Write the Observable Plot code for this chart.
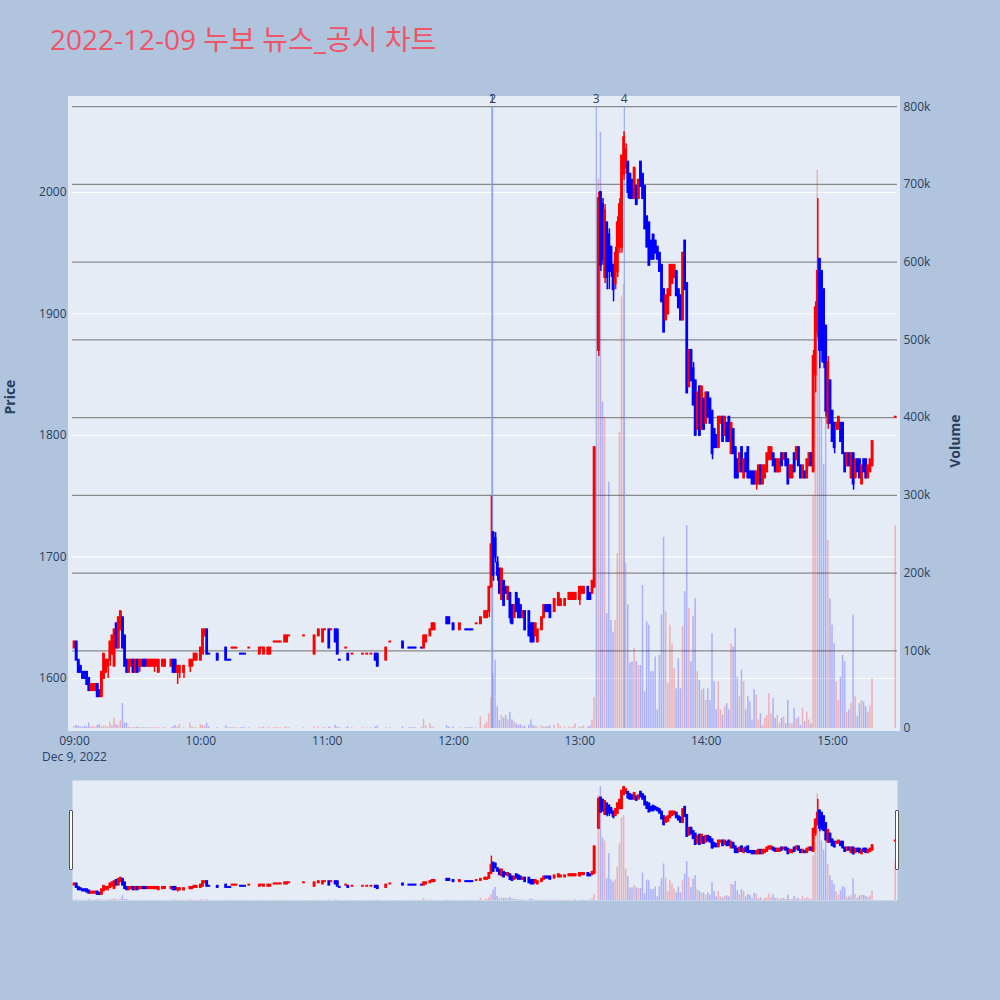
<!DOCTYPE html>
<html>
<head>
<meta charset="utf-8">
<script src="https://cdn.jsdelivr.net/npm/d3@7"></script>
<script src="https://cdn.jsdelivr.net/npm/@observablehq/plot@0.6"></script>
<style>
  html, body { margin: 0; padding: 0; background: #B0C4DE; }
  #root { position: relative; width: 1000px; height: 1000px; background: #B0C4DE; overflow: hidden;
          font-family: "Open Sans", "Noto Sans CJK KR", sans-serif; }
  #root svg { position: absolute; left: 0; }
  #title { position: absolute; left: 50px; top: 25px; font-size: 28px; line-height: 28px; color: #ef5468;
           white-space: nowrap; font-family: "Open Sans", "Noto Sans CJK KR", sans-serif; }
  .bg { position: absolute; background: #E5ECF6; }
  .handle { position: absolute; width: 2px; height: 58px; background: #fff; border: 1px solid #555; border-radius: 1px; }
</style>
</head>
<body>
<div id="root">
  <div id="title">2022-12-09 누보 뉴스_공시 차트</div>
</div>
<script>
// ---------------- DATA ----------------
const chartTitle = "2022-12-09 누보 뉴스_공시 차트";
const xTickMinutes = [0, 60, 120, 180, 240, 300, 360];
const xTickLabels = ["09:00", "10:00", "11:00", "12:00", "13:00", "14:00", "15:00"];
const dateLabel = "Dec 9, 2022";
const priceTicks = [1600, 1700, 1800, 1900, 2000];
const volumeTicks = [0, 100000, 200000, 300000, 400000, 500000, 600000, 700000, 800000];
const eventLabels = ["1", "2", "3", "4"];
const eventMinutes = [198.2, 198.6, 247.8, 261.1]; // minutes after 09:00
const priceAxisTitle = "Price";
const volumeAxisTitle = "Volume";

// one-minute candles per hour: [minute, open, high, low, close, volume (thousand shares)]
const bars09 = [
  [0,1625,1630,1625,1630,3],[1,1630,1630,1615,1615,4],[2,1615,1615,1605,1605,3],[3,1610,1610,1605,1605,2],
  [4,1605,1605,1600,1600,2],[5,1605,1605,1600,1600,3],[6,1605,1605,1595,1595,2],[7,1600,1600,1590,1590,7],
  [8,1590,1595,1590,1595,2],[9,1590,1595,1590,1595,3],[10,1590,1595,1590,1595,2],[11,1595,1595,1585,1585,4],
  [12,1590,1590,1585,1585,5],[13,1585,1605,1585,1605,2],[14,1600,1620,1600,1620,3],[15,1605,1615,1605,1615,3],
  [16,1610,1615,1600,1615,2],[17,1615,1630,1610,1630,8],[18,1620,1635,1620,1635,4],[19,1610,1640,1610,1640,13],
  [20,1645,1645,1625,1625,5],[21,1625,1650,1625,1650,4],[22,1640,1655,1640,1655,10],[23,1650,1650,1625,1625,32],
  [24,1635,1635,1610,1610,7],[25,1615,1615,1605,1605,7],[26,1605,1615,1605,1615,2],[27,1610,1615,1610,1615,1],
  [28,1615,1615,1605,1605,1],[29,1605,1615,1605,1615,1],[30,1615,1615,1605,1605,2],[31,1610,1615,1605,1615,1],
  [32,1610,1615,1610,1615,1],[33,1615,1615,1610,1610,1],[34,1615,1615,1610,1610,1],[35,1610,1615,1610,1615,1],
  [36,1610,1615,1610,1615,1],[37,1610,1615,1610,1615,1],[38,1610,1615,1605,1615,1],[39,1610,1615,1610,1615,1],
  [40,1605,1615,1605,1615,1],[42,1610,1615,1610,1615,1],[43,1610,1615,1610,1615,1],[46,1610,1615,1610,1615,1],
  [47,1615,1615,1605,1605,2],[48,1615,1615,1605,1605,4],[49,1605,1610,1595,1610,2],[50,1605,1610,1600,1610,5],
  [52,1605,1610,1600,1610,1],[55,1610,1615,1605,1615,7],[56,1610,1615,1610,1615,2],[57,1615,1620,1615,1620,1],
  [58,1615,1620,1615,1620,1]
];
const bars10 = [
  [0,1615,1625,1615,1625,5],[1,1620,1640,1620,1640,4],[2,1635,1640,1635,1640,3],[3,1640,1640,1620,1620,7],
  [4,1620,1620,1620,1620,2],[8,1620,1620,1615,1615,1],[12,1625,1625,1615,1615,3],[13,1615,1615,1615,1615,1],
  [14,1615,1615,1615,1615,1],[15,1625,1625,1625,1625,1],[16,1625,1625,1625,1625,1],[17,1625,1625,1625,1625,1],
  [19,1620,1620,1620,1620,1],[20,1620,1620,1620,1620,1],[21,1620,1620,1620,1620,1],[23,1625,1625,1625,1625,1],
  [28,1620,1625,1620,1625,1],[29,1625,1625,1625,1625,1],[30,1620,1625,1620,1625,2],[32,1620,1625,1620,1625,1],
  [33,1620,1625,1620,1625,1],[35,1630,1630,1630,1630,1],[36,1630,1630,1630,1630,1],[37,1630,1630,1630,1630,1],
  [38,1630,1630,1630,1630,1],[40,1630,1635,1630,1635,2],[41,1630,1635,1630,1635,1],[42,1635,1635,1635,1635,1],
  [49,1635,1635,1635,1635,1],[54,1620,1635,1620,1635,2],[56,1635,1640,1635,1640,2],[58,1630,1640,1630,1640,1],
  [59,1640,1640,1640,1640,1]
];
const bars11 = [
  [1,1640,1640,1625,1625,2],[2,1640,1640,1640,1640,1],[4,1640,1640,1630,1630,4],[5,1640,1640,1620,1620,2],
  [6,1615,1615,1615,1615,1],[9,1625,1625,1625,1625,1],[10,1620,1620,1615,1615,2],[12,1620,1620,1620,1620,1],
  [17,1620,1620,1620,1620,1],[19,1620,1620,1620,1620,1],[21,1620,1620,1620,1620,1],[23,1620,1620,1615,1615,2],
  [24,1620,1620,1610,1610,3],[28,1615,1625,1615,1625,1],[30,1630,1630,1630,1630,1],[36,1630,1630,1625,1625,2],
  [39,1625,1625,1625,1625,1],[40,1625,1625,1625,1625,1],[41,1625,1625,1625,1625,1],[42,1625,1625,1625,1625,1],
  [45,1625,1625,1625,1625,1],[46,1625,1635,1625,1635,12],[47,1630,1635,1630,1635,3],[49,1635,1640,1635,1640,6],
  [50,1640,1645,1640,1645,2],[51,1640,1645,1640,1645,1],[57,1650,1650,1645,1645,4],[58,1650,1650,1645,1645,2]
];
const bars12 = [
  [0,1645,1645,1640,1640,2],[3,1640,1645,1640,1645,1],[6,1640,1640,1640,1640,1],[7,1640,1640,1640,1640,1],
  [8,1640,1640,1640,1640,1],[9,1640,1640,1640,1640,1],[11,1645,1645,1645,1645,1],[13,1645,1650,1645,1650,15],
  [15,1650,1655,1650,1655,5],[16,1650,1655,1650,1655,8],[17,1655,1675,1650,1675,19],[18,1675,1750,1675,1710,40],
  [19,1720,1720,1680,1685,70],[20,1715,1720,1695,1700,88],[21,1695,1700,1680,1685,28],[22,1690,1690,1670,1670,10],
  [23,1665,1690,1665,1690,17],[24,1680,1680,1660,1660,13],[25,1675,1675,1670,1670,17],[26,1665,1675,1665,1675,11],
  [27,1670,1670,1645,1650,21],[28,1660,1660,1645,1645,11],[29,1650,1660,1650,1660,9],[30,1670,1670,1655,1655,6],
  [31,1665,1665,1650,1650,4],[32,1660,1660,1650,1650,5],[33,1650,1655,1650,1655,3],[34,1655,1655,1640,1640,3],
  [36,1655,1655,1635,1635,4],[37,1645,1645,1630,1630,11],[38,1645,1645,1630,1630,4],[39,1635,1645,1635,1645,3],
  [40,1630,1640,1630,1640,2],[42,1640,1650,1640,1650,3],[43,1650,1660,1650,1660,2],[44,1660,1660,1655,1655,2],
  [45,1660,1660,1655,1655,2],[46,1660,1660,1650,1650,3],[48,1655,1665,1655,1665,4],[50,1660,1670,1660,1670,6],
  [51,1660,1665,1660,1665,2],[53,1660,1665,1660,1665,2],[55,1665,1670,1665,1670,2],[56,1665,1670,1665,1670,1],
  [57,1665,1670,1665,1670,2],[58,1665,1670,1665,1670,6]
];
const bars13 = [
  [0,1665,1675,1660,1675,2],[1,1670,1675,1670,1675,2],[2,1670,1675,1670,1675,3],[4,1675,1675,1665,1665,2],
  [5,1670,1670,1665,1665,3],[6,1670,1680,1670,1680,11],[7,1675,1790,1675,1790,40],[9,1870,2000,1865,1995,707],
  [10,2000,2000,1935,1940,767],[11,1990,1995,1940,1945,420],[12,1930,1990,1925,1985,400],[13,1975,1975,1920,1930,148],
  [14,1965,1970,1920,1935,317],[15,1955,1955,1930,1935,139],[16,1940,1940,1910,1920,124],[17,1925,1955,1920,1950,139],
  [18,1935,1980,1930,1975,225],[19,1955,1995,1950,1990,381],[20,1955,2030,1950,2030,555],[21,2015,2050,2010,2045,572],
  [22,2020,2040,2015,2035,212],[23,2025,2025,1995,2000,159],[24,2015,2015,1995,1995,84],[25,2010,2010,1995,1995,86],
  [26,1995,2020,1995,2020,103],[27,2005,2005,1990,1990,86],[28,1995,2010,1995,2010,81],[29,2025,2025,2005,2005,81],
  [30,2015,2015,1995,1995,184],[31,2005,2005,1970,1970,47],[32,1980,1980,1955,1955,137],[33,1975,1975,1940,1940,133],
  [34,1960,1960,1945,1945,73],[35,1965,1965,1945,1945,73],[36,1960,1960,1950,1950,92],[37,1955,1955,1945,1945,24],
  [38,1950,1950,1935,1935,94],[39,1940,1940,1910,1910,146],[40,1920,1920,1885,1885,246],[41,1895,1915,1895,1915,150],
  [42,1900,1920,1900,1920,58],[43,1915,1940,1915,1940,133],[44,1925,1940,1925,1940,109],[45,1930,1940,1930,1940,77],
  [46,1935,1935,1915,1915,51],[47,1920,1920,1905,1905,90],[48,1915,1915,1895,1895,51],[49,1895,1950,1895,1950,131],
  [50,1960,1960,1920,1920,176],[51,1925,1925,1835,1835,261],[52,1840,1870,1840,1870,154],[53,1870,1870,1845,1845,86],
  [54,1855,1860,1825,1825,144],[55,1845,1845,1800,1800,167],[56,1805,1835,1805,1835,73],[57,1840,1840,1800,1800,62],
  [58,1805,1840,1805,1840,49],[59,1830,1830,1805,1805,51]
];
const bars14 = [
  [0,1810,1835,1810,1835,36],[1,1835,1835,1815,1815,51],[2,1830,1830,1810,1810,36],[3,1820,1820,1780,1785,122],
  [4,1805,1805,1790,1790,60],[5,1800,1800,1790,1790,24],[6,1790,1815,1790,1815,60],[7,1810,1815,1810,1815,24],
  [8,1815,1815,1795,1795,17],[9,1800,1815,1800,1815,28],[10,1810,1810,1795,1795,32],[11,1815,1815,1795,1795,24],
  [12,1785,1810,1785,1810,109],[13,1805,1805,1785,1785,105],[14,1790,1790,1765,1765,129],[15,1780,1780,1765,1765,66],
  [16,1770,1785,1770,1785,41],[17,1790,1790,1770,1770,75],[18,1765,1780,1765,1780,60],[19,1785,1785,1770,1770,24],
  [20,1790,1790,1765,1765,41],[21,1770,1770,1765,1765,34],[22,1770,1770,1760,1760,11],[23,1770,1770,1760,1760,50],
  [24,1760,1770,1755,1770,43],[25,1760,1775,1760,1775,11],[26,1775,1775,1760,1760,19],[27,1760,1775,1760,1775,4],
  [28,1765,1775,1765,1775,13],[29,1770,1785,1770,1785,17],[30,1780,1790,1780,1790,45],[31,1780,1790,1780,1790,19],
  [32,1785,1785,1775,1775,39],[33,1780,1780,1770,1770,13],[34,1770,1780,1770,1780,17],[35,1770,1780,1770,1780,6],
  [36,1785,1785,1775,1775,13],[37,1780,1785,1780,1785,15],[38,1785,1785,1775,1775,6],[39,1780,1780,1760,1760,36],
  [40,1765,1775,1765,1775,6],[41,1765,1775,1765,1775,6],[42,1785,1785,1770,1770,26],[43,1780,1790,1780,1790,12],
  [44,1790,1790,1775,1775,14],[45,1775,1775,1765,1765,4],[46,1765,1775,1765,1775,26],[47,1770,1770,1765,1765,9],
  [48,1765,1780,1765,1780,21],[49,1775,1785,1775,1785,11],[50,1785,1785,1775,1775,6],[51,1770,1870,1770,1865,300],
  [52,1850,1910,1835,1905,480],[53,1885,1995,1880,1935,718],[54,1945,1945,1855,1870,560],[55,1935,1935,1860,1870,400],
  [56,1920,1920,1855,1860,340],[57,1890,1890,1815,1820,430],[58,1810,1865,1805,1860,242],[59,1845,1845,1810,1810,167]
];
const bars15 = [
  [0,1820,1820,1795,1795,133],[1,1810,1810,1785,1790,109],[2,1805,1810,1805,1810,60],[3,1805,1815,1805,1815,36],
  [4,1810,1810,1795,1795,66],[5,1810,1810,1785,1785,94],[6,1785,1785,1770,1770,86],[7,1775,1785,1775,1785,21],
  [8,1785,1785,1775,1775,24],[9,1765,1785,1765,1785,32],[10,1785,1785,1755,1760,146],[11,1765,1780,1765,1780,41],
  [12,1780,1780,1770,1770,15],[13,1780,1780,1765,1765,32],[14,1760,1775,1760,1775,36],[15,1780,1780,1770,1770,34],
  [16,1780,1780,1765,1765,28],[17,1765,1775,1765,1775,21],[18,1770,1780,1770,1780,29],[19,1775,1795,1775,1795,64],
  [30,1815,1815,1815,1815,261]
];

// ---------------- BUILD ----------------
const hourBlocks = [bars09, bars10, bars11, bars12, bars13, bars14, bars15];
const candles = [];
hourBlocks.forEach((block, h) => block.forEach(([mm, o, hi, lo, c, vk]) =>
  candles.push({t: h * 60 + mm, o, h: hi, l: lo, c, v: vk * 1000})));
candles.sort((a, b) => a.t - b.t);
let prevC = null, prevUp = true;
for (const d of candles) {
  let up;
  if (d.c > d.o) up = true;
  else if (d.c < d.o) up = false;
  else if (prevC === null) up = true;
  else if (d.c > prevC) up = true;
  else if (d.c < prevC) up = false;
  else up = prevUp;
  d.up = up; prevC = d.c; prevUp = up;
}
const UP = "#ff0000", DOWN = "#0000ff";
const col = d => d.up ? UP : DOWN;

const xDomain = [-0.95, 390.86];
const priceDomain = [1558.8, 2075.7];
const volumeDomain = [0, 808000];
const W = 1000;
const M = {marginLeft: 72, marginRight: 103};
const baseStyle = {background: "transparent", fontFamily: '"Open Sans", sans-serif', fontSize: "12px", color: "#2a3f5f", overflow: "visible"};

const root = document.getElementById("root");
function addDiv(cls, left, top, w, h) {
  const d = document.createElement("div");
  d.className = cls;
  Object.assign(d.style, {left: left + "px", top: top + "px"});
  if (w != null) d.style.width = w + "px";
  if (h != null) d.style.height = h + "px";
  root.appendChild(d);
  return d;
}
function addSvg(svg, top) { svg.style.top = top + "px"; root.appendChild(svg); }

// main plot background (panel)
addDiv("bg", 68, 96, 832, 635);

const mainDims = {width: W, height: 780, ...M, marginTop: 100, marginBottom: 52};

// Layer A: price grid + axes
const svgA = Plot.plot({
  ...mainDims, style: baseStyle,
  x: {domain: xDomain}, y: {domain: priceDomain},
  marks: [
    Plot.ruleY(priceTicks, {stroke: "#ffffff", strokeWidth: 1}),
    Plot.axisX({ticks: xTickMinutes, tickFormat: d => xTickLabels[xTickMinutes.indexOf(d)], tickSize: 0, tickPadding: 8, label: null, fontSize: 12}),
    Plot.text([dateLabel], {x: () => xTickMinutes[0], frameAnchor: "bottom", dy: 32, fontSize: 12, fill: "#2a3f5f"}),
    Plot.axisY({anchor: "left", ticks: priceTicks, tickFormat: d => String(d), tickSize: 0, tickPadding: 6, label: null, fontSize: 12}),
    Plot.text([priceAxisTitle], {frameAnchor: "left", dx: -62, rotate: -90, fontWeight: "bold", fontSize: 14, fill: "#2a3f5f"})
  ]
});
addSvg(svgA, 0);

// Layer B: volume grid, bars, event lines, right axis
const svgB = Plot.plot({
  ...mainDims, style: baseStyle,
  x: {domain: xDomain, axis: null}, y: {domain: volumeDomain},
  marks: [
    Plot.ruleY(volumeTicks.slice(1), {stroke: "#8a8a8a", strokeWidth: 1.3}),
    Plot.rect(candles, {x1: d => d.t - 0.36, x2: d => d.t + 0.36, y1: 0, y2: "v", fill: col, fillOpacity: 0.25}),
    Plot.ruleX(eventMinutes, {x: d => d, y1: 0, y2: 800000, stroke: "#7895ea", strokeWidth: 1, strokeOpacity: 0.85}),
    Plot.text(eventLabels, {x: (d, i) => eventMinutes[i], y: 800000, dy: -4, lineAnchor: "bottom", fontSize: 12, fill: "#2a3f5f"}),
    Plot.axisY({anchor: "right", ticks: volumeTicks, tickFormat: d => d === 0 ? "0" : (d / 1000) + "k", tickSize: 0, tickPadding: 6, label: null, fontSize: 12}),
    Plot.text([volumeAxisTitle], {frameAnchor: "right", dx: 58, rotate: -90, fontWeight: "bold", fontSize: 14, fill: "#2a3f5f"})
  ]
});
addSvg(svgB, 0);

// Layer C: candles
function candleMarks() {
  return [
    Plot.ruleX(candles, {x: "t", y1: "l", y2: "h", stroke: col, strokeWidth: 1.5}),
    Plot.rect(candles, {x1: d => d.t - 0.42, x2: d => d.t + 0.42, y1: "o", y2: "c", fill: col,
      insetTop: -1, insetBottom: -1, insetLeft: -0.5, insetRight: -0.5})
  ];
}
const svgC = Plot.plot({
  ...mainDims, style: baseStyle,
  x: {domain: xDomain, axis: null}, y: {domain: priceDomain, axis: null},
  marks: candleMarks()
});
addSvg(svgC, 0);

// ---------------- RANGE SLIDER ----------------
const sliderDims = {width: W, height: 120, ...M, marginTop: 0, marginBottom: 0};
const svgD = Plot.plot({
  ...sliderDims, style: baseStyle,
  x: {domain: xDomain, axis: null}, y: {domain: volumeDomain, axis: null},
  marks: [
    Plot.frame({fill: "#E5ECF6", stroke: "none"}),
    Plot.rect(candles, {x1: d => d.t - 0.36, x2: d => d.t + 0.36, y1: 0, y2: "v", fill: col, fillOpacity: 0.25})
  ]
});
addSvg(svgD, 780);
const svgE = Plot.plot({
  ...sliderDims, style: baseStyle,
  x: {domain: xDomain, axis: null}, y: {domain: priceDomain, axis: null},
  marks: candleMarks()
});
addSvg(svgE, 780);
addDiv("handle", 69, 810);
addDiv("handle", 895, 810);
</script>
</body>
</html>
